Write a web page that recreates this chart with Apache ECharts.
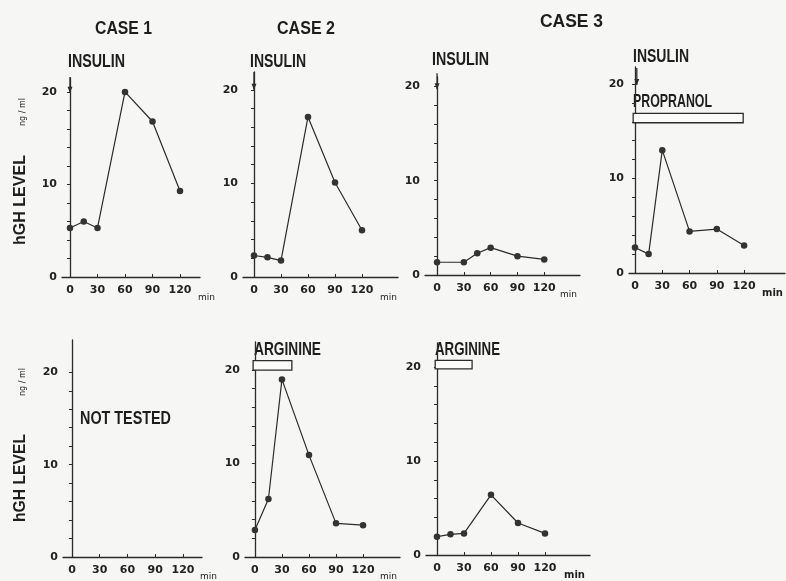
<!DOCTYPE html>
<html><head><meta charset="utf-8">
<script src="https://cdn.jsdelivr.net/npm/echarts@6/dist/echarts.min.js"></script>
<style>html,body{margin:0;padding:0;background:#f6f6f4}#c{width:786px;height:581px}</style>
</head><body><div id="c"></div>
<script>
// ---- data ----
const xTickValues = [0, 30, 60, 90, 120];
const yLabelValues = [0, 10, 20];
const yTickValues = [0, 2, 4, 6, 8, 10, 12, 14, 16, 18, 20];

const case1InsulinTime = [0, 15, 30, 60, 90, 120];
const case1InsulinHGH  = [5.3, 6.0, 5.3, 20.0, 16.8, 9.3];
const case2InsulinTime = [0, 15, 30, 60, 90, 120];
const case2InsulinHGH  = [2.3, 2.1, 1.75, 17.1, 10.1, 5.0];
const case3InsulinTime = [0, 30, 45, 60, 90, 120];
const case3InsulinHGH  = [1.35, 1.35, 2.3, 2.9, 2.0, 1.65];
const case3PropTime    = [0, 15, 30, 60, 90, 120];
const case3PropHGH     = [2.7, 2.0, 13.0, 4.4, 4.65, 2.9];
const case2ArgTime     = [0, 15, 30, 60, 90, 120];
const case2ArgHGH      = [2.9, 6.2, 19.0, 10.9, 3.6, 3.4];
const case3ArgTime     = [0, 15, 30, 60, 90, 120];
const case3ArgHGH      = [1.95, 2.2, 2.3, 6.4, 3.4, 2.3];

// infusion periods [start, end] in min, drawn as boxes at hGH levels [low, high]
const propranolPeriod   = [-2, 119]; const propranolBox = [15.9, 16.9];
const arginineCase2     = [-2, 41];  const arginineBox2 = [20.0, 21.0];
const arginineCase3     = [-2, 39];  const arginineBox3 = [19.8, 20.7];
// insulin injection arrows: [time, from level, to level]
const insulinArrow1 = [0, 21.6, 19.9];
const insulinArrow2 = [0, 21.9, 20.0];
const insulinArrow3 = [0, 21.4, 19.7];
const insulinArrow4 = [2, 21.7, 19.9];

// ---- layout ----
const panels = [
  {left: 62,  top: 78,  width: 138, height: 199, xMin: -8.7,  xMax: 141.8, yMax: 21.5},
  {left: 243, top: 72,  width: 155, height: 205, xMin: -12.2, xMax: 160,   yMax: 21.9},
  {left: 425, top: 77,  width: 155, height: 198, xMin: -13.5, xMax: 160,   yMax: 21.0},
  {left: 629, top: 67,  width: 156, height: 206, xMin: -6.6,  xMax: 165,   yMax: 21.8},
  {left: 63,  top: 340, width: 139, height: 217, xMin: -9.7,  xMax: 140.5, yMax: 23.5},
  {left: 245, top: 342, width: 155, height: 215, xMin: -11,   xMax: 161,   yMax: 23.0},
  {left: 426, top: 343, width: 164, height: 212, xMin: -12.2, xMax: 170,   yMax: 22.55}
];

const INK = '#2b2b2b';
const numFont = {fontFamily: 'DejaVu Sans', fontWeight: 'bold', fontSize: 11, color: '#222'};

const grid = panels.map(p => ({left: p.left, top: p.top, width: p.width, height: p.height}));
const xAxis = panels.map((p, i) => ({
  type: 'value', gridIndex: i, min: p.xMin, max: p.xMax,
  axisLine: {lineStyle: {color: INK, width: 1.3}},
  axisTick: {customValues: xTickValues, inside: true, length: 3, lineStyle: {color: INK}},
  axisLabel: Object.assign({customValues: xTickValues, margin: 8}, numFont),
  splitLine: {show: false}
}));
const yAxis = panels.map((p, i) => ({
  type: 'value', gridIndex: i, min: 0, max: p.yMax,
  axisLine: {show: true, lineStyle: {color: INK, width: 1.3}},
  axisTick: {show: true, customValues: yTickValues, length: 3, lineStyle: {color: INK}},
  axisLabel: Object.assign({customValues: yLabelValues, margin: 5}, numFont),
  splitLine: {show: false}
}));

function zip(a, b) { return a.map((v, i) => [v, b[i]]); }
function box(period, lv) {
  return {silent: true, animation: false, label: {show: false},
    itemStyle: {color: '#fbfbf9', borderColor: INK, borderWidth: 1.3},
    data: [[{coord: [period[0], lv[0]]}, {coord: [period[1], lv[1]]}]]};
}
function line(i, t, v, extra) {
  return Object.assign({
    type: 'line', xAxisIndex: i, yAxisIndex: i, data: zip(t, v),
    symbol: 'circle', symbolSize: 6.5, animation: false,
    lineStyle: {color: INK, width: 1.2}, itemStyle: {color: '#333'}
  }, extra || {});
}
function arrowSeries(i, a) {
  return {
    type: 'line', xAxisIndex: i, yAxisIndex: i, clip: false, silent: true, animation: false,
    z: 5, lineStyle: {color: INK, width: 1.3}, itemStyle: {color: INK},
    data: [
      {value: [a[0], a[1]], symbol: 'none'},
      {value: [a[0], a[2]], symbol: 'triangle', symbolRotate: 180, symbolSize: [5, 6], symbolOffset: [0, -3]}
    ]
  };
}

const series = [
  line(0, case1InsulinTime, case1InsulinHGH),
  line(1, case2InsulinTime, case2InsulinHGH),
  line(2, case3InsulinTime, case3InsulinHGH),
  line(3, case3PropTime, case3PropHGH, {markArea: box(propranolPeriod, propranolBox)}),
  line(5, case2ArgTime, case2ArgHGH, {markArea: box(arginineCase2, arginineBox2)}),
  line(6, case3ArgTime, case3ArgHGH, {markArea: box(arginineCase3, arginineBox3)}),
  arrowSeries(0, insulinArrow1), arrowSeries(1, insulinArrow2),
  arrowSeries(2, insulinArrow3), arrowSeries(3, insulinArrow4)
];

const headFamily = "'Liberation Sans', Arial, sans-serif";
const measureCtx = document.createElement('canvas').getContext('2d');
// condensed lettering: text scaled horizontally to the width seen in the figure
function txt(s, x, y, w, size, rot) {
  const font = 'bold ' + size + 'px ' + headFamily;
  measureCtx.font = font;
  const sx = w / measureCtx.measureText(s).width;
  return {type: 'text', x: x, y: y, rotation: rot || 0, scaleX: sx,
    style: {text: s, fill: '#1e1e1e', font: font, align: rot ? 'center' : 'left', verticalAlign: 'middle'}};
}
function small(s, x, y, font, rot) {
  return {type: 'text', x: x, y: y, rotation: rot || 0,
    style: {text: s, fill: '#1e1e1e', font: font, align: rot ? 'center' : 'left', verticalAlign: 'middle'}};
}
const graphic = [
  txt('CASE 1', 95, 29, 57, 19), txt('CASE 2', 277, 29, 58, 19), txt('CASE 3', 540, 22, 63, 19),
  txt('INSULIN', 68, 62, 57, 19), txt('INSULIN', 250, 62, 56, 19),
  txt('INSULIN', 432, 60, 57, 19), txt('INSULIN', 633, 57, 56, 18),
  txt('PROPRANOL', 633, 102, 79, 18),
  txt('ARGININE', 254, 350, 67, 19), txt('ARGININE', 435, 350, 65, 18),
  txt('NOT TESTED', 80, 419, 91, 19),
  txt('hGH LEVEL', 21, 200, 90, 16, Math.PI / 2),
  txt('hGH LEVEL', 21, 478, 88, 16, Math.PI / 2),
  small('ng / ml', 23, 112, '8px DejaVu Sans', Math.PI / 2),
  small('ng / ml', 23, 382, '8px DejaVu Sans', Math.PI / 2),
  small('min', 198, 298, '9px DejaVu Sans'), small('min', 380, 298, '9px DejaVu Sans'),
  small('min', 560, 295, '9px DejaVu Sans'), small('min', 762, 293, 'bold 10px DejaVu Sans'),
  small('min', 200, 577, '9px DejaVu Sans'), small('min', 380, 577, '9px DejaVu Sans'),
  small('min', 564, 575, 'bold 10px DejaVu Sans')
];

const chart = echarts.init(document.getElementById('c'), null, {renderer: 'canvas'});
chart.setOption({backgroundColor: '#f6f6f4', animation: false, grid, xAxis, yAxis, series, graphic});
</script></body></html>
